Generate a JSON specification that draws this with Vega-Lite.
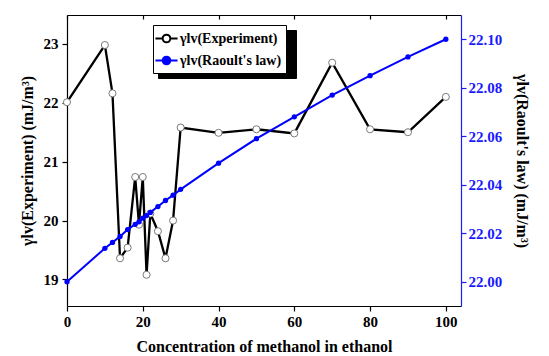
{
  "$schema": "https://vega.github.io/schema/vega-lite/v6.json",
  "width": 394,
  "height": 291,
  "autosize": {"type": "none"},
  "padding": {"left": 67, "top": 15, "right": 88, "bottom": 50},
  "background": "white",
  "config": {
    "view": {"stroke": null},
    "font": "Liberation Serif",
    "axis": {
      "grid": false,
      "labelFont": "Liberation Serif",
      "labelFontSize": 15,
      "labelFontWeight": "bold",
      "labelColor": "black",
      "titleFont": "Liberation Serif",
      "titleFontSize": 16,
      "titleFontWeight": "bold",
      "titleColor": "black",
      "domainColor": "black",
      "domainWidth": 1.2,
      "tickColor": "black",
      "tickWidth": 1.2,
      "labelFlush": false,
      "labelOverlap": false
    },
    "legend": {
      "title": null,
      "orient": "none",
      "padding": 4,
      "rowPadding": 4,
      "labelFont": "Liberation Serif",
      "labelFontSize": 14,
      "labelFontWeight": "bold",
      "labelOffset": 4,
      "symbolSize": 289,
      "symbolStrokeWidth": 2,
      "symbolType": "M-1.3,0L-0.45,0M0.45,0L1.3,0M0.45,0A0.45,0.45,0,1,1,-0.45,0A0.45,0.45,0,1,1,0.45,0",
      "strokeColor": "black"
    }
  },
  "datasets": {
    "exp": [
      {"c": 0, "g": 22.01, "series": "γlv(Experiment)"},
      {"c": 10, "g": 22.98, "series": "γlv(Experiment)"},
      {"c": 12, "g": 22.16, "series": "γlv(Experiment)"},
      {"c": 14, "g": 19.36, "series": "γlv(Experiment)"},
      {"c": 16, "g": 19.54, "series": "γlv(Experiment)"},
      {"c": 18, "g": 20.74, "series": "γlv(Experiment)"},
      {"c": 19, "g": 19.93, "series": "γlv(Experiment)"},
      {"c": 20, "g": 20.74, "series": "γlv(Experiment)"},
      {"c": 21, "g": 19.08, "series": "γlv(Experiment)"},
      {"c": 22, "g": 20.12, "series": "γlv(Experiment)"},
      {"c": 24, "g": 19.82, "series": "γlv(Experiment)"},
      {"c": 26, "g": 19.36, "series": "γlv(Experiment)"},
      {"c": 28, "g": 20.0, "series": "γlv(Experiment)"},
      {"c": 30, "g": 21.58, "series": "γlv(Experiment)"},
      {"c": 40, "g": 21.49, "series": "γlv(Experiment)"},
      {"c": 50, "g": 21.55, "series": "γlv(Experiment)"},
      {"c": 60, "g": 21.48, "series": "γlv(Experiment)"},
      {"c": 70, "g": 22.68, "series": "γlv(Experiment)"},
      {"c": 80, "g": 21.55, "series": "γlv(Experiment)"},
      {"c": 90, "g": 21.5, "series": "γlv(Experiment)"},
      {"c": 100, "g": 22.1, "series": "γlv(Experiment)"}
    ],
    "raoult": [
      {"c": 0, "g": 22.0, "series": "γlv(Raoult's law)"},
      {"c": 10, "g": 22.0138, "series": "γlv(Raoult's law)"},
      {"c": 12, "g": 22.0162, "series": "γlv(Raoult's law)"},
      {"c": 14, "g": 22.0187, "series": "γlv(Raoult's law)"},
      {"c": 16, "g": 22.0215, "series": "γlv(Raoult's law)"},
      {"c": 18, "g": 22.0237, "series": "γlv(Raoult's law)"},
      {"c": 19, "g": 22.0247, "series": "γlv(Raoult's law)"},
      {"c": 20, "g": 22.0262, "series": "γlv(Raoult's law)"},
      {"c": 21, "g": 22.0273, "series": "γlv(Raoult's law)"},
      {"c": 22, "g": 22.0286, "series": "γlv(Raoult's law)"},
      {"c": 24, "g": 22.031, "series": "γlv(Raoult's law)"},
      {"c": 26, "g": 22.0335, "series": "γlv(Raoult's law)"},
      {"c": 28, "g": 22.0357, "series": "γlv(Raoult's law)"},
      {"c": 30, "g": 22.0381, "series": "γlv(Raoult's law)"},
      {"c": 40, "g": 22.0489, "series": "γlv(Raoult's law)"},
      {"c": 50, "g": 22.059, "series": "γlv(Raoult's law)"},
      {"c": 60, "g": 22.068, "series": "γlv(Raoult's law)"},
      {"c": 70, "g": 22.077, "series": "γlv(Raoult's law)"},
      {"c": 80, "g": 22.085, "series": "γlv(Raoult's law)"},
      {"c": 90, "g": 22.0927, "series": "γlv(Raoult's law)"},
      {"c": 100, "g": 22.1, "series": "γlv(Raoult's law)"}
    ]
  },
  "layer": [
    {
      "data": {"name": "exp"},
      "layer": [
        {
          "description": "Invisible points whose colour legend draws the legend's drop shadow",
          "mark": {"type": "point", "opacity": 0},
          "encoding": {
            "x": {
              "field": "c",
              "type": "quantitative",
              "scale": {"domain": [0, 104], "nice": false, "zero": false},
              "axis": {
                "orient": "bottom",
                "title": "Concentration of methanol in ethanol",
                "values": [0, 5, 10, 15, 20, 25, 30, 35, 40, 45, 50, 55, 60, 65, 70, 75, 80, 85, 90, 95, 100],
                "labelExpr": "datum.value % 10 === 0 ? datum.label : ''",
                "tickSize": {"condition": {"test": "datum.value % 10 !== 0", "value": 3}, "value": 5},
                "labelPadding": 3,
                "titlePadding": 9
              }
            },
            "y": {
              "field": "g",
              "type": "quantitative",
              "scale": {"domain": [18.55, 23.49], "nice": false, "zero": false},
              "axis": {
                "orient": "left",
                "title": "γlv(Experiment) (mJ/m³)",
                "values": [19, 19.5, 20, 20.5, 21, 21.5, 22, 22.5, 23],
                "labelExpr": "datum.value % 1 === 0 ? format(datum.value, 'd') : ''",
                "tickSize": {"condition": {"test": "datum.value % 1 !== 0", "value": 3}, "value": 5},
                "labelPadding": 4,
                "titlePadding": 8
              }
            },
            "color": {
              "field": "series",
              "type": "nominal",
              "scale": {"domain": ["γlv(Raoult's law)", "γlv(Experiment)"], "range": ["black", "black"]},
              "legend": {"orient": "none", "legendX": 91, "legendY": 15, "fillColor": "black", "strokeColor": "black", "labelExpr": "''", "labelOffset": 111}
            }
          }
        },
        {
          "mark": {"type": "line", "strokeWidth": 2.3},
          "encoding": {
            "x": {"field": "c", "type": "quantitative"},
            "y": {"field": "g", "type": "quantitative"},
            "stroke": {
              "field": "series",
              "type": "nominal",
              "scale": {"domain": ["γlv(Experiment)", "γlv(Raoult's law)"], "range": ["black", "#0000ff"]},
              "legend": {"orient": "none", "legendX": 86, "legendY": 10, "fillColor": "white", "labelColor": "black"}
            }
          }
        },
        {
          "mark": {"type": "point", "filled": true, "size": 50, "stroke": "#7a7a7a", "strokeWidth": 1, "opacity": 1},
          "encoding": {
            "x": {"field": "c", "type": "quantitative"},
            "y": {"field": "g", "type": "quantitative"},
            "fill": {
              "field": "series",
              "type": "nominal",
              "scale": {"domain": ["γlv(Experiment)", "γlv(Raoult's law)"], "range": ["white", "#0000ff"]},
              "legend": {"orient": "none", "legendX": 86, "legendY": 10, "fillColor": "white", "labelColor": "black"}
            }
          }
        }
      ]
    },
    {
      "data": {"name": "raoult"},
      "layer": [
        {
          "mark": {"type": "line", "strokeWidth": 2},
          "encoding": {
            "x": {
              "field": "c",
              "type": "quantitative",
              "axis": {
                "orient": "top",
                "title": null,
                "labels": false,
                "values": [0, 5, 10, 15, 20, 25, 30, 35, 40, 45, 50, 55, 60, 65, 70, 75, 80, 85, 90, 95, 100],
                "tickSize": -4
              }
            },
            "y": {
              "field": "g",
              "type": "quantitative",
              "scale": {"domain": [21.99, 22.11], "nice": false, "zero": false},
              "axis": {
                "orient": "right",
                "title": "γlv(Raoult's law) (mJ/m³)",
                "values": [22.0, 22.01, 22.02, 22.03, 22.04, 22.05, 22.06, 22.07, 22.08, 22.09, 22.1],
                "labelExpr": "round(datum.value * 100) % 2 === 0 ? format(datum.value, '.2f') : ''",
                "tickSize": {"condition": {"test": "round(datum.value * 100) % 2 !== 0", "value": 3}, "value": 5},
                "domainColor": "#1a1aff",
                "tickColor": "#1a1aff",
                "labelColor": "#1a1aff",
                "labelPadding": 2,
                "titlePadding": 12
              }
            },
            "stroke": {"field": "series", "type": "nominal"}
          }
        },
        {
          "mark": {"type": "point", "filled": true, "size": 28, "strokeWidth": 0, "opacity": 1},
          "encoding": {
            "x": {"field": "c", "type": "quantitative"},
            "y": {"field": "g", "type": "quantitative"},
            "fill": {"field": "series", "type": "nominal"}
          }
        }
      ]
    }
  ],
  "resolve": {
    "scale": {"y": "independent"},
    "axis": {"x": "independent", "y": "independent"}
  }
}
